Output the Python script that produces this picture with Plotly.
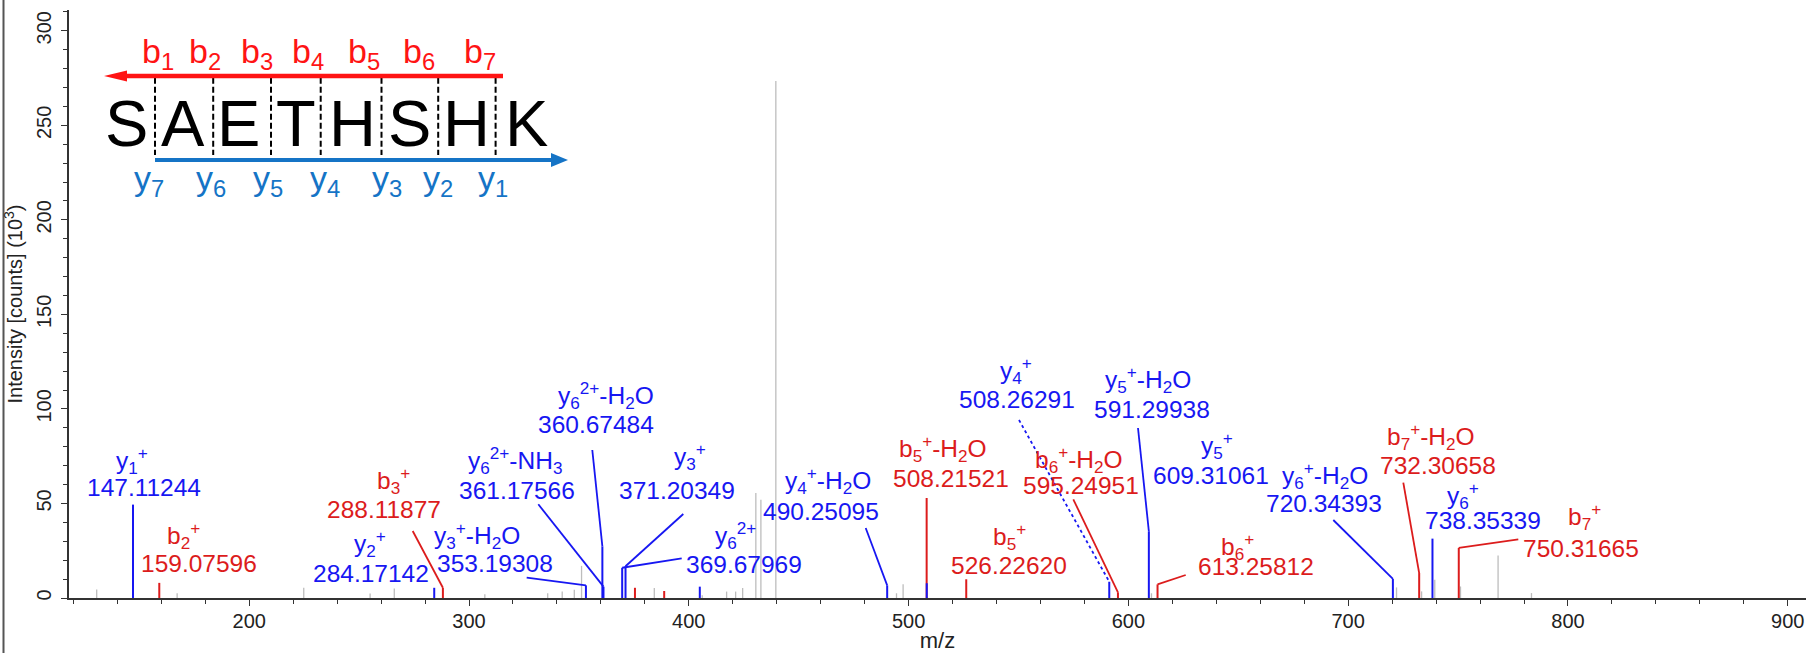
import plotly.graph_objects as go

# ---------------------------------------------------------------- data
# annotated fragment ions: series, label, m/z, intensity (x10^3 counts)
ion_series = ["y", "b", "y", "b", "y", "y", "y", "y", "y", "y", "b",
              "y", "b", "y", "b", "y", "b", "y", "b", "y", "b"]
ion_labels = [
    "y<sub>1</sub><sup>+</sup>",
    "b<sub>2</sub><sup>+</sup>",
    "y<sub>2</sub><sup>+</sup>",
    "b<sub>3</sub><sup>+</sup>",
    "y<sub>3</sub><sup>+</sup>-H<sub>2</sub>O",
    "y<sub>6</sub><sup>2+</sup>-H<sub>2</sub>O",
    "y<sub>6</sub><sup>2+</sup>-NH<sub>3</sub>",
    "y<sub>6</sub><sup>2+</sup>",
    "y<sub>3</sub><sup>+</sup>",
    "y<sub>4</sub><sup>+</sup>-H<sub>2</sub>O",
    "b<sub>5</sub><sup>+</sup>-H<sub>2</sub>O",
    "y<sub>4</sub><sup>+</sup>",
    "b<sub>5</sub><sup>+</sup>",
    "y<sub>5</sub><sup>+</sup>-H<sub>2</sub>O",
    "b<sub>6</sub><sup>+</sup>-H<sub>2</sub>O",
    "y<sub>5</sub><sup>+</sup>",
    "b<sub>6</sub><sup>+</sup>",
    "y<sub>6</sub><sup>+</sup>-H<sub>2</sub>O",
    "b<sub>7</sub><sup>+</sup>-H<sub>2</sub>O",
    "y<sub>6</sub><sup>+</sup>",
    "b<sub>7</sub><sup>+</sup>",
]
ion_mz = [147.11244, 159.07596, 284.17142, 288.11877, 353.19308, 360.67484,
          361.17566, 369.67969, 371.20349, 490.25095, 508.21521, 508.26291,
          526.22620, 591.29938, 595.24951, 609.31061, 613.25812, 720.34393,
          732.30658, 738.35339, 750.31665]
ion_intensity = [49.4, 8.0, 5.4, 5.4, 6.7, 27.3, 6.0, 16.0, 16.8, 6.7, 52.9,
                 7.8, 9.9, 8.6, 3.0, 35.3, 7.2, 10.1, 13.2, 31.4, 26.5]

# matched but unlabelled peaks
extra_b_mz = [375.5, 388.8]
extra_b_intensity = [5.4, 3.7]
extra_y_mz = [405.0]
extra_y_intensity = [6.0]

# unassigned peaks
other_mz = [130.6, 167.2, 224.8, 255.0, 266.0, 307.2, 335.8, 342.4, 347.9,
            351.2, 384.3, 406.1, 417.2, 421.3, 424.5, 430.5, 432.8, 439.6,
            494.5, 497.5, 610.5, 722.0, 733.4, 739.4, 751.1, 768.2, 783.4]
other_intensity = [4.5, 2.5, 5.4, 2.4, 5.0, 2.0, 2.5, 3.4, 4.3, 17.0, 5.3,
                   1.5, 3.4, 3.4, 5.3, 55.5, 52.0, 273.5, 2.5, 7.3, 2.5, 5.6,
                   3.5, 9.7, 6.1, 22.5, 2.6]

sequence = list("SAETHSHK")
x_ticks = [200, 300, 400, 500, 600, 700, 800, 900]
y_ticks = [0, 50, 100, 150, 200, 250, 300]

# ---------------------------------------------------------------- layout
FIG_W, FIG_H = 1807, 653
M_L, M_R, M_T, M_B = 69, 1, 10, 55
X_RANGE = [118.0, 908.3]
Y_RANGE = [0, 311]
FONT = "Arial, 'Liberation Sans', sans-serif"
BLUE = "#1717f2"
RED = "#dc1c1c"
GRAY = "#bdbdbd"
SEQ_RED = "#ff1414"
SEQ_BLUE = "#1574c6"
AXIS = "#333333"
TEXT = "#222222"

PW = FIG_W - M_L - M_R
PH = FIG_H - M_T - M_B


def px_to_paper(px, py):
    return (px - M_L) / PW, (FIG_H - M_B - py) / PH


def px_to_data(px, py):
    fx, fy = px_to_paper(px, py)
    return (X_RANGE[0] + fx * (X_RANGE[1] - X_RANGE[0]),
            Y_RANGE[0] + fy * (Y_RANGE[1] - Y_RANGE[0]))


# label placement (pixel centres of the name line and the m/z line)
name_pos = [(131.7, 460), (183.3, 535), (370, 543.3), (393.3, 480),
            (477.3, 535), (605.5, 395), (515, 460), (735.3, 535),
            (690, 456.7), (827.5, 480), (942.5, 448.3), (1015.7, 370),
            (1009.7, 536.7), (1147.8, 380), (1078.8, 459.3), (1217, 445),
            (1237, 546.7), (1325, 475), (1431.3, 436.7), (1462.5, 495),
            (1584.5, 516.7)]
num_pos = [(143.8, 487.3), (199.2, 563.3), (370.8, 573.3), (384.2, 509.3),
           (495, 563.3), (595.8, 424.3), (517.2, 490), (744, 564),
           (676.7, 490), (821.3, 511.7), (950.8, 478.3), (1017.2, 399),
           (1009.2, 565.7), (1151.5, 409), (1081, 485), (1210.5, 475),
           (1255.8, 566.7), (1323.8, 503.5), (1438, 465.7), (1482.5, 520),
           (1580.8, 548.3)]

# leader lines: label index -> (start pixel, m/z of the peak it points to, dash)
leaders = {
    3: ((412.7, 531), 288.11877, "solid"),
    4: ((526.7, 577.7), 353.19308, "solid"),
    5: ((592.3, 450), 360.67484, "solid"),
    6: ((538.3, 504.3), 361.17566, "solid"),
    7: ((681.7, 558.3), 369.67969, "solid"),
    8: ((683.3, 514), 371.20349, "solid"),
    9: ((865.7, 528), 490.25095, "solid"),
    11: ((1019, 420), 591.29938, "dot"),
    13: ((1138, 428), 609.31061, "solid"),
    14: ((1073.3, 499.3), 595.24951, "solid"),
    16: ((1185.7, 575), 613.25812, "solid"),
    17: ((1333.3, 520), 720.34393, "solid"),
    18: ((1403.3, 482.7), 732.30658, "solid"),
    20: ((1518.3, 539.3), 750.31665, "solid"),
}


def stems(mzs, ints):
    xs, ys = [], []
    for m, v in zip(mzs, ints):
        xs += [m, m, None]
        ys += [0, v, None]
    return xs, ys


fig = go.Figure()

gx, gy = stems(other_mz, other_intensity)
fig.add_trace(go.Scatter(x=gx, y=gy, mode="lines",
                         line=dict(color=GRAY, width=1.3),
                         hoverinfo="skip", showlegend=False))

for series, colour in (("b", RED), ("y", BLUE)):
    mzs = [m for s, m in zip(ion_series, ion_mz) if s == series]
    ints = [v for s, v in zip(ion_series, ion_intensity) if s == series]
    if series == "b":
        mzs += extra_b_mz
        ints += extra_b_intensity
    else:
        mzs += extra_y_mz
        ints += extra_y_intensity
    sx, sy = stems(mzs, ints)
    fig.add_trace(go.Scatter(x=sx, y=sy, mode="lines",
                             line=dict(color=colour, width=2),
                             hoverinfo="skip", showlegend=False))

# leader lines from labels to peak tops
peak_height = dict(zip(ion_mz, ion_intensity))
for idx, (start, target, dash) in leaders.items():
    colour = RED if ion_series[idx] == "b" else BLUE
    x0, y0 = px_to_data(*start)
    fig.add_trace(go.Scatter(x=[x0, target], y=[y0, peak_height[target]],
                             mode="lines",
                             line=dict(color=colour, width=1.8, dash=dash),
                             hoverinfo="skip", showlegend=False))

annotations = []
for i, label in enumerate(ion_labels):
    colour = RED if ion_series[i] == "b" else BLUE
    for text, pos in ((label, name_pos[i]), (f"{ion_mz[i]:.5f}", num_pos[i])):
        ax, ay = px_to_paper(*pos)
        annotations.append(dict(
            x=ax, y=ay, xref="paper", yref="paper", text=text,
            showarrow=False, xanchor="center", yanchor="middle",
            font=dict(family=FONT, size=24.5, color=colour)))

# peptide sequence with fragmentation map
seq_x = [126.3, 182.5, 238, 295.8, 352.1, 409.5, 466.1, 526.2]
for ch, px in zip(sequence, seq_x):
    ax, ay = px_to_paper(px, 123)
    annotations.append(dict(x=ax, y=ay, xref="paper", yref="paper", text=ch,
                            showarrow=False, xanchor="center",
                            yanchor="middle",
                            font=dict(family=FONT, size=65, color="black")))

b_x = [157.9, 205.2, 257.2, 308, 364.2, 419.4, 480.2]
y_x = [149.3, 211, 267.9, 324.9, 386.9, 438.2, 493.1]
for k, px in enumerate(b_x):
    ax, ay = px_to_paper(px, 54)
    annotations.append(dict(x=ax, y=ay, xref="paper", yref="paper",
                            text=f"b<sub>{k + 1}</sub>", showarrow=False,
                            xanchor="center", yanchor="middle",
                            font=dict(family=FONT, size=34, color=SEQ_RED)))
for k, px in enumerate(y_x):
    ax, ay = px_to_paper(px, 180)
    annotations.append(dict(x=ax, y=ay, xref="paper", yref="paper",
                            text=f"y<sub>{7 - k}</sub>", showarrow=False,
                            xanchor="center", yanchor="middle",
                            font=dict(family=FONT, size=34, color=SEQ_BLUE)))

shapes = []


def paper_line(x0, y0, x1, y1, **line):
    a, b = px_to_paper(x0, y0)
    c, d = px_to_paper(x1, y1)
    shapes.append(dict(type="line", xref="paper", yref="paper",
                       x0=a, y0=b, x1=c, y1=d, line=line, layer="above"))


def paper_triangle(points, colour):
    pts = [px_to_paper(*p) for p in points]
    path = "M " + " L ".join(f"{x},{y}" for x, y in pts) + " Z"
    shapes.append(dict(type="path", xref="paper", yref="paper", path=path,
                       fillcolor=colour, line=dict(width=0), layer="above"))


sep_x = [155, 213.2, 271, 320.7, 381.5, 438.2, 495.6]
for px in sep_x:
    paper_line(px, 77.7, px, 155, color="black", width=2, dash="6px,3px")

paper_line(124, 76, 503, 76, color=SEQ_RED, width=4.5)
paper_triangle([(104, 76), (127, 70.5), (127, 81.5)], SEQ_RED)
paper_line(155, 160, 554, 160, color=SEQ_BLUE, width=4)
paper_triangle([(568, 160), (551, 153), (551, 167)], SEQ_BLUE)

# frame edge on the left
paper_line(3.5, 0, 3.5, FIG_H, color="#555555", width=2)

fig.update_layout(
    width=FIG_W, height=FIG_H,
    margin=dict(l=M_L, r=M_R, t=M_T, b=M_B, pad=0),
    paper_bgcolor="white", plot_bgcolor="white",
    font=dict(family=FONT, color=TEXT),
    annotations=annotations, shapes=shapes,
    xaxis=dict(
        range=X_RANGE, showgrid=False, zeroline=False,
        showline=True, linecolor=AXIS, linewidth=1.5,
        ticks="outside", ticklen=6, tickwidth=1.3, tickcolor=AXIS,
        tickmode="array", tickvals=x_ticks,
        ticktext=[str(t) for t in x_ticks],
        ticklabelstandoff=-2,
        tickfont=dict(family=FONT, size=20, color=TEXT),
        minor=dict(dtick=20, tick0=0, ticks="outside", ticklen=4.5,
                   tickwidth=1.2, tickcolor=AXIS, showgrid=False),
        title=dict(text="m/z", standoff=0,
                   font=dict(family=FONT, size=22, color=TEXT)),
    ),
    yaxis=dict(
        range=Y_RANGE, showgrid=False, zeroline=False,
        showline=True, linecolor=AXIS, linewidth=1.5,
        ticks="outside", ticklen=6, tickwidth=1.3, tickcolor=AXIS,
        tickmode="array", tickvals=y_ticks,
        ticktext=[str(t) for t in y_ticks], tickangle=-90,
        ticklabelstandoff=2,
        tickfont=dict(family=FONT, size=20, color=TEXT),
        minor=dict(dtick=10, tick0=0, ticks="outside", ticklen=4.5,
                   tickwidth=1.2, tickcolor=AXIS, showgrid=False),
        title=dict(text="Intensity [counts] (10<sup>3</sup>)", standoff=5,
                   font=dict(family=FONT, size=20, color=TEXT)),
    ),
)

fig.write_html("out.html")
